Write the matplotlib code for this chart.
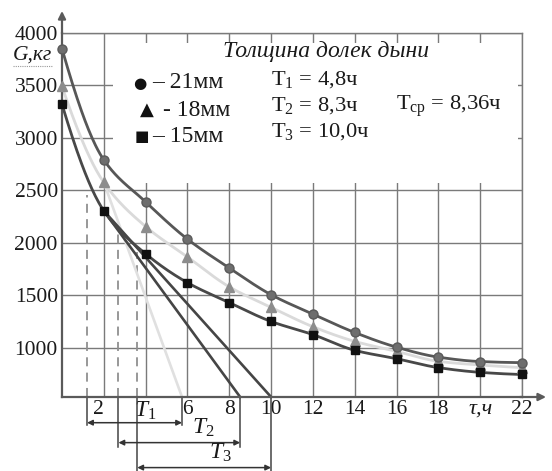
import numpy as np
import matplotlib
matplotlib.use("Agg")
import matplotlib.pyplot as plt
from matplotlib.patches import Rectangle

plt.rcParams['font.family'] = ['Liberation Serif', 'DejaVu Serif']
plt.rcParams['mathtext.fontset'] = 'custom'
plt.rcParams['mathtext.rm'] = 'Liberation Serif'
plt.rcParams['mathtext.it'] = 'Liberation Serif:italic'

# ---- data ----
tau = [0, 2, 4, 6, 8, 10, 12, 14, 16, 18, 20, 22]
g_21mm = [3850, 2790, 2390, 2035, 1760, 1505, 1320, 1145, 1005, 910, 868, 858]
g_18mm = [3490, 2575, 2155, 1865, 1580, 1385, 1200, 1060, 965, 870, 835, 810]
g_15mm = [3320, 2305, 1895, 1620, 1430, 1250, 1125, 975, 895, 810, 765, 745]

xticks = [2, 4, 6, 8, 10, 12, 14, 16, 18, 20, 22]
xtick_labels = ["2  ", "$T_1$", "6", "8", "10", "12", "14", "16", "18", "τ,ч", "22"]
yticks = [1000, 1500, 2000, 2500, 3000, 3500, 4000]
ytick_labels = ["1000", "1500", "2000", "2500", "3000", "3500", "4000"]

# tangent construction
tan_start = [(2, 2575), (2, 2305), (2, 2305)]
tan_end_x = [5.74, 8.52, 10.0]
tan_colors = ['#e0e0e0', '#454545', '#454545']
dash_x = [1.2, 2.7, 3.6]
dash_top = [2457, 2143, 1914]
arrow_y = [285, 95, -143]
vline_bottom = [266, 57, -190]
T_names = ["$T_1$", "$T_2$", "$T_3$"]

YMIN, YMAX = 530, 4000
TXT = '#1a1a1a'


def pchip(x, y, xs):
    x = np.asarray(x, float); y = np.asarray(y, float)
    h = np.diff(x); d = np.diff(y) / h
    n = len(x); m = np.zeros(n)
    for k in range(1, n - 1):
        if d[k - 1] * d[k] > 0:
            w1 = 2 * h[k] + h[k - 1]; w2 = h[k] + 2 * h[k - 1]
            m[k] = (w1 + w2) / (w1 / d[k - 1] + w2 / d[k])
    def endm(h0, h1, d0, d1):
        v = ((2 * h0 + h1) * d0 - h0 * d1) / (h0 + h1)
        if np.sign(v) != np.sign(d0):
            v = 0
        elif np.sign(d0) != np.sign(d1) and abs(v) > abs(3 * d0):
            v = 3 * d0
        return v
    m[0] = endm(h[0], h[1], d[0], d[1])
    m[-1] = endm(h[-1], h[-2], d[-1], d[-2])
    idx = np.clip(np.searchsorted(x, xs) - 1, 0, n - 2)
    t = (xs - x[idx]) / h[idx]
    h00 = 2 * t**3 - 3 * t**2 + 1; h10 = t**3 - 2 * t**2 + t
    h01 = -2 * t**3 + 3 * t**2; h11 = t**3 - t**2
    return h00 * y[idx] + h10 * h[idx] * m[idx] + h01 * y[idx + 1] + h11 * h[idx] * m[idx + 1]


fig = plt.figure(figsize=(5.52, 4.71), dpi=100)
ax = fig.add_axes([62 / 552, 74 / 471, 460 / 552, 364 / 471])
ax.set_xlim(0, 22)
ax.set_ylim(YMIN, YMAX)

grid_c = '#7a7a7a'
for yv in yticks:
    ax.axhline(yv, color=grid_c, lw=1.0, zorder=0.5)
for xv in xticks:
    ax.axvline(xv, color=grid_c, lw=1.0, zorder=0.5)

# white caption box
ax.add_patch(Rectangle((2.44, 2571), 21.8 - 2.44, 3905 - 2571, facecolor='white',
                       edgecolor='none', zorder=1))

for s in ['top', 'right']:
    ax.spines[s].set_color(grid_c)
    ax.spines[s].set_linewidth(1.0)
for s in ['left', 'bottom']:
    ax.spines[s].set_color('#5a5a5a')
    ax.spines[s].set_linewidth(1.6)

xs = np.linspace(0, 22, 400)
# curves
ax.plot(xs, pchip(tau, g_18mm, xs), color='#dadada', lw=2.0, zorder=2)
ax.plot(xs, pchip(tau, g_21mm, xs), color='#575757', lw=2.0, zorder=3)
ax.plot(xs, pchip(tau, g_15mm, xs), color='#484848', lw=2.0, zorder=3)

# tangent lines
for (x0, y0), xe, c in zip(tan_start, tan_end_x, tan_colors):
    ax.plot([x0, xe], [y0, YMIN], color=c, lw=1.9, zorder=2.5 if c != '#e0e0e0' else 1.8,
            clip_on=False)

# markers
ax.plot(tau, g_18mm, ls='none', marker='^', ms=6.5, color='#8c8c8c', mec='#8c8c8c',
        zorder=4, clip_on=False)
ax.plot(tau, g_21mm, ls='none', marker='o', ms=6.5, color='#6e6e6e', mec='#5a5a5a',
        zorder=4, clip_on=False)
ax.plot(tau, g_15mm, ls='none', marker='s', ms=6, color='#111111', mec='#111111',
        zorder=5, clip_on=False)

# dashed verticals + construction below axis
for xd, yt, ya, yb, xe in zip(dash_x, dash_top, arrow_y, vline_bottom, tan_end_x):
    ax.plot([xd, xd], [YMIN, yt], color='#909090', lw=1.3, ls=(0, (5, 3.5)), zorder=1.5)
    ax.plot([xd, xd], [YMIN, yb], color='#444444', lw=1.1, clip_on=False)
    ax.plot([xe, xe], [YMIN, yb], color='#444444', lw=1.1, clip_on=False)
    ax.annotate('', xy=(xe, ya), xytext=(xd, ya), annotation_clip=False,
                arrowprops=dict(arrowstyle='<|-|>', color='#333333', lw=1.1,
                                mutation_scale=8, shrinkA=0, shrinkB=0))

ax.text(6.75, 232, T_names[1], fontsize=17, ha='center', va='center', color=TXT)
ax.text(7.55, 0, T_names[2], fontsize=17, ha='center', va='center', color=TXT)

# ticks
ax.set_xticks(xticks)
ax.set_xticklabels(xtick_labels, fontsize=15.5, color=TXT)
ax.set_yticks(yticks)
ax.set_yticklabels(ytick_labels, fontsize=15.5, color=TXT)
ax.tick_params(axis='both', length=0)
ax.tick_params(axis='x', pad=2)
ax.tick_params(axis='y', pad=3)
for lab in ax.get_xticklabels():
    if lab.get_text() == '$T_1$':
        lab.set_fontsize(17)
    if lab.get_text() == 'τ,ч':
        lab.set_fontstyle('italic')
        lab.set_fontsize(16)

# axis arrows
ax.annotate('', xy=(23.15, YMIN), xytext=(21.9, YMIN), annotation_clip=False,
            arrowprops=dict(arrowstyle='-|>', color='#5a5a5a', lw=1.6, mutation_scale=11,
                            shrinkA=0, shrinkB=0))
ax.annotate('', xy=(0, 4210), xytext=(0, 3990), annotation_clip=False,
            arrowprops=dict(arrowstyle='-|>', color='#5a5a5a', lw=1.6, mutation_scale=11,
                            shrinkA=0, shrinkB=0))

# y label
fig.text(32 / 552, 1 - 55 / 471, "G,кг", fontsize=15.5, fontstyle='italic', ha='center',
         va='center', color=TXT)
fig.add_artist(plt.Line2D([13 / 552, 52 / 552], [1 - 66 / 471, 1 - 66 / 471],
                          color='#999999', lw=0.8, ls=(0, (1, 1))))

# caption text
fig.text(326 / 552, 1 - 51 / 471, "Толщина долек дыни", fontsize=17, fontstyle='italic',
         ha='center', va='center', color=TXT)
legend_sym = ["●", "▲", "■"]
legend_txt = ["– 21мм", "- 18мм", "– 15мм"]
legend_sym_x = [140, 147, 142]
legend_txt_x = [152, 163, 152]
legend_y = [83, 110, 137]
sym_size = [11, 13, 11]
for s, t, sx, tx, yy, ss in zip(legend_sym, legend_txt, legend_sym_x, legend_txt_x, legend_y, sym_size):
    fig.text(sx / 552, 1 - yy / 471, s, fontsize=ss, family='DejaVu Sans', ha='center',
             va='center', color='#111')
    fig.text(tx / 552, 1 - yy / 471, t, fontsize=17, ha='left', va='center', color=TXT)

t_lines = ["T$_1$ = 4,8ч", "T$_2$ = 8,3ч", "T$_3$ = 10,0ч"]
t_y = [80, 106, 132]
for t, yy in zip(t_lines, t_y):
    fig.text(271 / 552, 1 - yy / 471, t, fontsize=16.2, ha='left', va='center', color=TXT)
fig.text(396 / 552, 1 - 106 / 471, "T$_{\\mathrm{ср}}$ = 8,36ч", fontsize=16.2, ha='left',
         va='center', color=TXT)

fig.savefig("out.png", dpi=100)
